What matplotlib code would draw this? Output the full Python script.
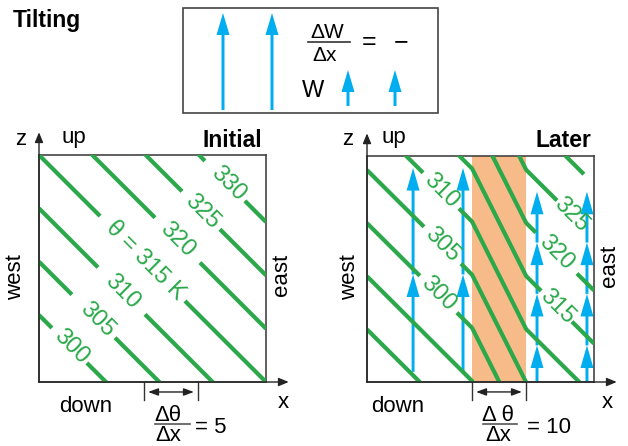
import numpy as np
import matplotlib
matplotlib.use("Agg")
import matplotlib.pyplot as plt
from matplotlib.patches import Rectangle

plt.rcParams['font.family'] = ['Liberation Sans', 'DejaVu Sans']

# ---------------- data ----------------
theta_ref = 315          # K, line through the box corners (initial)
theta_step = 5           # K between isentropes
spacing = 0.235          # box units between isentropes (initial gradient 5)

theta_initial = [300, 305, 310, 315, 320, 325, 330]
initial_text = ['300', '305', '310', 'θ = 315 K', '320', '325', '330']
initial_label_x = [0.141, 0.256, 0.366, 0.467, 0.608, 0.718, 0.833]
initial_gap_lo = [0.057, 0.145, 0.260, 0.269, 0.511, 0.630, 0.731]
initial_gap_hi = [0.211, 0.335, 0.467, 0.643, 0.709, 0.797, 0.907]

theta_later = [290, 295, 300, 305, 310, 315, 320, 325, 330]
later_text = ['', '', '300', '305', '310', '315', '320', '325', '']
later_label_x = [np.nan, np.nan, 0.313, 0.330, 0.326, 0.837, 0.833, 0.899, np.nan]
later_gap_lo = [np.nan, np.nan, 0.233, 0.251, 0.247, 0.767, 0.744, 0.837, 0.956]
later_gap_hi = [np.nan, np.nan, 0.396, 0.414, 0.405, 0.903, 0.925, 1.100, 1.100]

band = [0.4626, 0.7004]                 # region where dW/dx < 0
lift_right = 0.17                        # lift of isentropes east of band
lift_left = lift_right + (band[1] - band[0])   # lift west of band

w_left_x = [0.203, 0.423]
w_left_tips = [0.476, 0.947]
w_left_base = 0.045
w_right_x = [0.749, 0.969]
w_right_tips = [0.162, 0.390, 0.617, 0.842]
w_right_base = 0.0

legend_long_x = [223, 272]
legend_short_x = [348, 395]

green = '#2aa84a'
blue = '#00aeef'
orange = '#f6bb88'
frame = '#444444'

W, H = 628, 446
fig = plt.figure(figsize=(W / 100, H / 100), dpi=100)

ov = fig.add_axes([0, 0, 1, 1])
ov.set_xlim(0, W)
ov.set_ylim(H, 0)
ov.axis('off')


def panel(left, top, right, bottom):
    ax = fig.add_axes([left / W, 1 - bottom / H, (right - left) / W, (bottom - top) / H])
    ax.set_xlim(0, 1)
    ax.set_ylim(0, 1)
    ax.set_xticks([])
    ax.set_yticks([])
    ax.set_facecolor('none')
    for s in ax.spines.values():
        s.set_color(frame)
        s.set_linewidth(1.2)
    return ax


ax0 = panel(39, 155, 266, 382)
ax1 = panel(367, 156, 594, 382)

xs = np.union1d(np.linspace(0, 1, 2001), band)


def level_c(th):
    return 1 + (th - theta_ref) / theta_step * spacing


def draw_levels(ax, levels, texts, lab_x, lo, hi, lift_fn):
    for th, t, lx, a, b in zip(levels, texts, lab_x, lo, hi):
        z = level_c(th) - xs + lift_fn(xs)
        if not np.isnan(a):
            z = np.where((xs > a) & (xs < b), np.nan, z)
        ax.plot(xs, z, color=green, lw=3.0, solid_capstyle='butt', zorder=3)
        if t:
            zl = level_c(th) - lx + lift_fn(np.array([lx]))[0]
            ax.text(lx, zl, t, rotation=-45, rotation_mode='anchor', ha='center',
                    va='center', color=green, fontsize=17, zorder=4)


draw_levels(ax0, theta_initial, initial_text, initial_label_x, initial_gap_lo,
            initial_gap_hi, lambda x: np.zeros_like(x))
ax1.axvspan(band[0], band[1], color=orange, lw=0, zorder=0)
draw_levels(ax1, theta_later, later_text, later_label_x, later_gap_lo, later_gap_hi,
            lambda x: np.interp(x, band, [lift_left, lift_right]))


def multi_arrow(ax, x, base, tips, sw, hw, hl, z=2):
    prev = base
    for tp in tips:
        ax.arrow(x, prev, 0, tp - prev, width=sw, head_width=hw, head_length=hl,
                 length_includes_head=True, fc=blue, ec='none', zorder=z, clip_on=False)
        prev = tp


for x in w_left_x:
    multi_arrow(ax1, x, w_left_base, w_left_tips, 0.013, 0.057, 0.10)
for x in w_right_x:
    multi_arrow(ax1, x, w_right_base, w_right_tips, 0.013, 0.057, 0.10)

# axes arrows and delta-x markers
for ax in (ax0, ax1):
    ap = dict(arrowstyle='-|>,head_length=0.6,head_width=0.25', lw=1.0, color='#222222',
              shrinkA=0, shrinkB=0, mutation_scale=10)
    ax.annotate('', xy=(0, 1.10), xytext=(0, 0), arrowprops=ap, annotation_clip=False)
    ax.annotate('', xy=(1.10, 0), xytext=(0, 0), arrowprops=ap, annotation_clip=False)
    for bx in band:
        ax.plot([bx, bx], [0, -0.079], color='#333333', lw=1.0, clip_on=False)
    ap2 = dict(arrowstyle='<|-|>,head_length=0.6,head_width=0.22', lw=1.0, color='#222222',
               shrinkA=0, shrinkB=0, mutation_scale=10)
    ax.annotate('', xy=(band[0] + 0.018, -0.044), xytext=(band[1] - 0.018, -0.044),
                arrowprops=ap2, annotation_clip=False)

fs = 16
# panel texts (pixel coordinates on overlay)
ov.text(13, 27, 'Tilting', fontsize=16.5, fontweight='bold', ha='left', va='baseline')
for zx, upx, tx, title, wx, ex, ey, dx, xx in [
        (21, 74, 262, 'Initial', 16, 281, 275, 86, 283),
        (348, 394, 591, 'Later', 350, 609, 266, 398, 607)]:
    ov.text(zx, 145, 'z', fontsize=fs, ha='center', va='baseline')
    ov.text(upx, 143, 'up', fontsize=fs, ha='center', va='baseline')
    ov.text(tx, 147, title, fontsize=16.5, fontweight='bold', ha='right', va='baseline')
    ov.text(wx, 277, 'west', fontsize=fs, rotation=90, ha='center', va='center')
    ov.text(ex, ey, 'east', fontsize=fs, rotation=90, ha='center', va='center')
    ov.text(dx, 412, 'down', fontsize=fs, ha='center', va='baseline')
    ov.text(xx, 408, 'x', fontsize=fs, ha='center', va='baseline')

# fractions
for cx, b0, b1, num, rhs, rx in [(168, 155, 190, 'Δθ', '= 5', 195),
                                  (498, 483, 517, 'Δ θ', '= 10', 527)]:
    ov.text(cx, 421, num, fontsize=fs, ha='center', va='baseline')
    ov.plot([b0, b1], [424, 424], color='#555555', lw=1.2)
    ov.text(cx, 441, 'Δx', fontsize=fs, ha='center', va='baseline')
    ov.text(rx, 433, rhs, fontsize=fs, ha='left', va='baseline')

# legend box
ov.add_patch(Rectangle((183, 8), 255, 105, fill=False, ec=frame, lw=1.2))
for x in legend_long_x:
    ov.arrow(x, 110, 0, -97, width=3, head_width=13, head_length=22,
             length_includes_head=True, fc=blue, ec='none')
for x in legend_short_x:
    ov.arrow(x, 106, 0, -36, width=3, head_width=13, head_length=22,
             length_includes_head=True, fc=blue, ec='none')
ov.text(327, 38, 'ΔW', fontsize=15, ha='center', va='baseline')
ov.plot([308, 350], [42, 42], color='#333333', lw=1.2)
ov.text(325, 61, 'Δx', fontsize=15, ha='center', va='baseline')
ov.text(369, 42, '=', fontsize=18, ha='center', va='center')
ov.text(401, 42, '−', fontsize=18, ha='center', va='center')
ov.text(313, 97, 'W', fontsize=17, ha='center', va='baseline')

fig.savefig('out.png', dpi=100)
